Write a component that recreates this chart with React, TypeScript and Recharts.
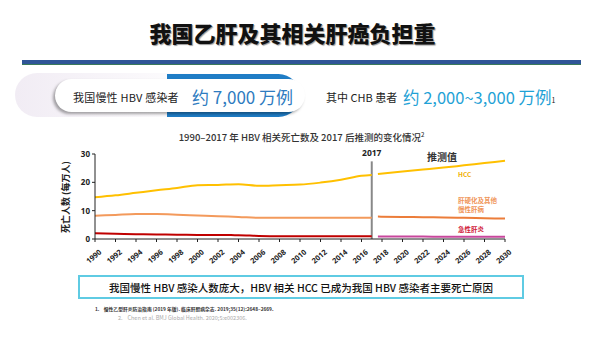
import { LineChart, Line, XAxis, YAxis, ReferenceLine } from 'recharts';

const histYears = [1990, 1992, 1994, 1996, 1998, 2000, 2002, 2004, 2006, 2008, 2010, 2012, 2014, 2016, 2017];
const hccHist = [14.7, 15.4, 16.3, 17.2, 18.0, 19.0, 19.1, 19.3, 18.8, 19.0, 19.2, 19.9, 20.9, 22.3, 22.6];
const cirrhosisHist = [8.2, 8.5, 8.8, 8.8, 8.6, 8.3, 8.0, 7.8, 7.5, 7.5, 7.5, 7.5, 7.5, 7.5, 7.5];
const acuteHist = [2.0, 1.85, 1.7, 1.6, 1.5, 1.45, 1.4, 1.35, 1.1, 1.0, 1.0, 1.0, 1.0, 0.95, 0.95];

const forecastYears = [2017.6, 2020, 2022, 2024, 2026, 2028, 2030];
const hccForecast = [22.9, 23.8, 24.5, 25.2, 26.0, 26.8, 27.6];
const cirrhosisForecast = [7.9, 7.8, 7.7, 7.6, 7.5, 7.35, 7.2];
const acuteForecast = [0.85, 0.85, 0.85, 0.8, 0.8, 0.8, 0.8];

const xTicks = [1990, 1992, 1994, 1996, 1998, 2000, 2002, 2004, 2006, 2008, 2010, 2012, 2014, 2016, 2018, 2020, 2022, 2024, 2026, 2028, 2030];
const yTicks = [0, 10, 20, 30];

const hist = histYears.map((year, i) => ({ year, hcc: hccHist[i], cirrhosis: cirrhosisHist[i], acute: acuteHist[i] }));
const forecast = forecastYears.map((year, i) => ({ year, hcc: hccForecast[i], cirrhosis: cirrhosisForecast[i], acute: acuteForecast[i] }));

const cjk = '"Noto Sans CJK SC", "Noto Sans", sans-serif';

const abs = (left: number, top: number, extra: React.CSSProperties = {}): React.CSSProperties => ({
  position: 'absolute',
  left,
  top,
  whiteSpace: 'nowrap',
  fontFamily: cjk,
  ...extra
});

function XTick({ x, y, payload }: any) {
  return (
    <text x={x + 3} y={y + 4} transform={`rotate(-40 ${x + 3} ${y + 4})`} textAnchor="end" dominantBaseline="hanging"
      fontSize={7.5} fontWeight={700} fill="#222" fontFamily="'Noto Sans', sans-serif">
      {payload.value}
    </text>
  );
}

export default function App() {
  return (
    <div style={{ position: 'absolute', left: 0, top: 0, width: 603, height: 339, background: '#fff', overflow: 'hidden' }}>
      {/* heading */}
      <div style={abs(0, 17, { width: 585, textAlign: 'center', fontSize: 22, fontWeight: 900, color: '#111', textShadow: '1px 1px 1px #999', lineHeight: '30px' })}>
        我国乙肝及其相关肝癌负担重
      </div>
      <div style={{ position: 'absolute', left: 22, top: 60, width: 559, height: 4, background: '#2f5597', borderBottom: '1px solid #3a7a5a' }} />

      {/* info band */}
      <div style={{ position: 'absolute', left: 15, top: 73, width: 200, height: 44, borderRadius: '22px 0 0 22px', background: 'linear-gradient(90deg, #f1ecf4, #ffffff)' }} />
      <div style={{ position: 'absolute', left: 167, top: 74, width: 128, height: 33, border: '5px solid #1f7dc6', borderLeft: 'none', borderRadius: '0 22px 22px 0', background: '#fff' }} />
      <div style={{ position: 'absolute', left: 55, top: 79, width: 250, height: 33, borderRadius: 17, background: '#fff', boxShadow: '-2px 2px 3px rgba(0,0,0,0.35)' }} />
      <div style={abs(73, 89, { fontSize: 11, color: '#222', lineHeight: '16px', letterSpacing: 0.2 })}>我国慢性 HBV 感染者</div>
      <div style={abs(192, 85, { fontSize: 17, color: '#2e7bc0', lineHeight: '24px' })}>约 7,000 万例</div>
      <div style={abs(326, 89, { fontSize: 11, color: '#222', lineHeight: '16px' })}>其中 CHB 患者</div>
      <div style={abs(403, 85, { fontSize: 16.5, color: '#1fa2d6', lineHeight: '24px' })}>
        约 2,000~3,000 万例<sup style={{ fontSize: 7, color: '#222', verticalAlign: 'top', position: 'relative', top: 3 }}>1</sup>
      </div>

      {/* chart title */}
      <div style={abs(0, 128, { width: 603, textAlign: 'center', fontSize: 9.5, fontWeight: 500, color: '#333', lineHeight: '14px' })}>
        1990–2017 年 HBV 相关死亡数及 2017 后推测的变化情况<sup style={{ fontSize: 6 }}>2</sup>
      </div>

      <div style={{ position: 'absolute', left: 0, top: 0 }}>
        <LineChart width={603} height={339} margin={{ top: 154, right: 98, bottom: 70, left: 65 }}>
          <XAxis dataKey="year" type="number" domain={[1990, 2030]} ticks={xTicks} interval={0} allowDuplicatedCategory={false}
            height={30} tick={<XTick />} tickSize={3} stroke="#222" axisLine={{ stroke: '#222' }} tickLine={{ stroke: '#222' }} />
          <YAxis type="number" domain={[0, 30]} ticks={yTicks} width={30} tickSize={3} stroke="#222"
            tick={{ fontSize: 8, fontWeight: 700, fill: '#222', fontFamily: "'Noto Sans', sans-serif" }} />
          <ReferenceLine segment={[{ x: 2017, y: 0 }, { x: 2017, y: 27.4 }]} stroke="#888" strokeWidth={2}
            label={{ value: '2017', position: 'top', fontSize: 8.5, fontWeight: 700, fill: '#222', fontFamily: "'Noto Sans', sans-serif" }} />
          <Line data={hist} dataKey="hcc" type="monotone" stroke="#ffc000" strokeWidth={2} dot={false} isAnimationActive={false} />
          <Line data={hist} dataKey="cirrhosis" type="monotone" stroke="#f39a5c" strokeWidth={2} dot={false} isAnimationActive={false} />
          <Line data={hist} dataKey="acute" type="monotone" stroke="#c00000" strokeWidth={2} dot={false} isAnimationActive={false} />
          <Line data={forecast} dataKey="hcc" type="monotone" stroke="#ffc000" strokeWidth={2} dot={false} isAnimationActive={false} />
          <Line data={forecast} dataKey="cirrhosis" type="monotone" stroke="#ec7d3a" strokeWidth={2} dot={false} isAnimationActive={false} />
          <Line data={forecast} dataKey="acute" type="monotone" stroke="#c8479c" strokeWidth={2} dot={false} isAnimationActive={false} />
        </LineChart>
      </div>

      {/* chart annotations */}
      <div style={abs(55, 160, { width: 20, height: 74 })}>
        <div style={{ position: 'absolute', left: 10, top: 37, transform: 'translate(-50%, -50%) rotate(-90deg)', fontSize: 9, fontWeight: 700, color: '#222', whiteSpace: 'nowrap' }}>
          死亡人数 (每万人)
        </div>
      </div>
      <div style={abs(427, 150, { fontSize: 10, fontWeight: 700, color: '#333', lineHeight: '14px' })}>推测值</div>
      <div style={abs(458, 169, { fontSize: 6.5, fontWeight: 700, color: '#f0b000', lineHeight: '10px' })}>HCC</div>
      <div style={abs(458, 196, { fontSize: 6.5, fontWeight: 700, color: '#f0955a', lineHeight: '9px' })}>肝硬化及其他<br />慢性肝病</div>
      <div style={abs(458, 224, { fontSize: 6.5, fontWeight: 700, color: '#d0203a', lineHeight: '10px' })}>急性肝炎</div>

      {/* conclusion box */}
      <div style={{ position: 'absolute', left: 78, top: 275, width: 442, height: 20, border: '2px solid #5fcbe3', display: 'flex', alignItems: 'center', justifyContent: 'center', fontFamily: cjk, fontSize: 10.5, fontWeight: 500, color: '#111' }}>
        我国慢性 HBV 感染人数庞大，HBV 相关 HCC 已成为我国 HBV 感染者主要死亡原因
      </div>

      {/* references */}
      <div style={abs(95, 305, { fontSize: 4.8, fontWeight: 700, color: '#333', lineHeight: '7px' })}>
        1.&nbsp;&nbsp;&nbsp;&nbsp;慢性乙型肝炎防治指南 (2019 年版). 临床肝胆病杂志. 2019;35(12):2648–2669.
      </div>
      <div style={abs(118, 314, { fontSize: 5.5, color: '#aaa', lineHeight: '8px' })}>
        2.&nbsp;&nbsp;&nbsp;&nbsp;Chen et al. BMJ Global Health. 2020;5:e002306.
      </div>
    </div>
  );
}
